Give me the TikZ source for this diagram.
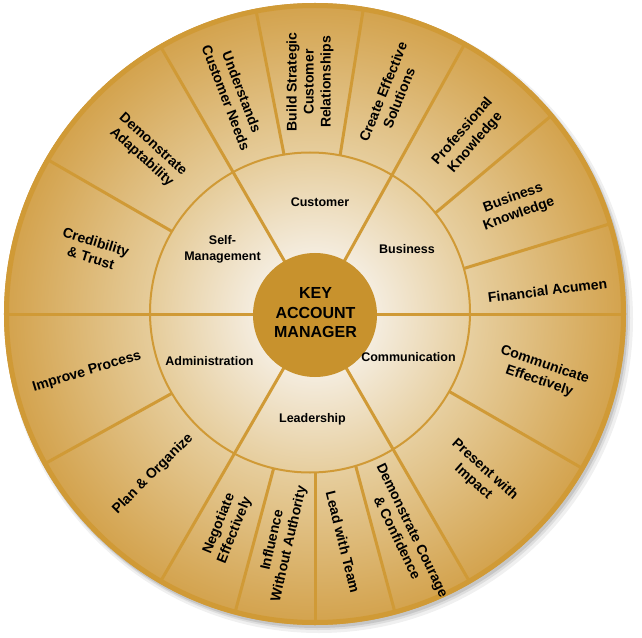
\documentclass[tikz,border=0pt]{standalone}
\usepackage{fontspec}
\setmainfont{Liberation Sans}
\definecolor{gold}{HTML}{D09A36}
\definecolor{goldc}{HTML}{C8922D}
\definecolor{cA}{HTML}{F6F0E6}
\definecolor{cB}{HTML}{E6CD9C}
\definecolor{cC}{HTML}{D3A24C}
\pgfdeclareradialshading{wheel}{\pgfpoint{0bp}{0bp}}{color(0bp)=(cA); color(4bp)=(cA); color(13bp)=(cB); color(25bp)=(cC); color(50bp)=(cC)}
\tikzset{
  divider/.style={draw=gold, line width=3},
  ringline/.style={draw=gold, line width=2},
  inlbl/.style={font=\bfseries\fontsize{12.5}{16}\selectfont, align=center, inner sep=0pt, text=black},
  outlbl/.style={font=\bfseries\fontsize{14}{17}\selectfont, align=center, inner sep=0pt, text=black},
  hublbl/.style={font=\bfseries\fontsize{16}{19.5}\selectfont, align=center, inner sep=0pt, text=black}
}
\begin{document}
\begin{tikzpicture}[x=1pt,y=1pt]
\useasboundingbox (-315,-323) rectangle (327,314);
% shadow
\fill[black, opacity=0.06] (4,-5) circle (314);
\fill[black, opacity=0.08] (3,-4) circle (312);
\fill[black, opacity=0.10] (2,-3) circle (311);
% outer disk
\shade[shading=wheel] (0,0) circle (311);
% outer dividers
\foreach \a in {17,40,81,101,150,209,255,270,285,330}
  \draw[divider] (0,0) -- (\a:308);
% inner disk
\begin{scope}
  \clip (-5,1.5) circle (160);
  \shade[shading=wheel] (0,0) circle (311);
\end{scope}
\draw[ringline] (-5,1.5) circle (160);
% main dividers
\foreach \a in {0,61,120,180,240,300}
  \draw[divider] (0,0) -- (\a:308);
% border
\draw[draw=gold, line width=5] (0,0) circle (308.5);
% hub
\fill[goldc] (0,-1) circle (62);
\node[hublbl] (hub) at (0.5,1) {KEY\\ACCOUNT\\MANAGER};
% inner labels
\node[inlbl] (cust) at (5,112) {Customer};
\node[inlbl] (bus) at (92,65) {Business};
\node[inlbl] (comm) at (93.5,-43) {Communication};
\node[inlbl] (lead) at (-2.5,-105) {Leadership};
\node[inlbl] (adm) at (-105.5,-47) {Administration};
\node[inlbl] (self) at (-92.5,64.5) {Self-\\Management};
% outer labels
\node[outlbl, rotate=7] (o1) at (232.5,23.5) {Financial Acumen};
\node[outlbl, rotate=20] (o2) at (201,108) {Business\\Knowledge};
\node[outlbl, rotate=49] (o3) at (154,177) {Professional\\Knowledge};
\node[outlbl, rotate=68] (o4) at (76,219) {Create Effective\\Solutions};
\node[outlbl, rotate=90] (o5) at (-5,232) {Build Strategic\\Customer\\Relationships};
\node[outlbl, rotate=-69] (o6) at (-81,219) {Understands\\Customer Needs};
\node[outlbl, rotate=-42] (o7) at (-168,163) {Demonstrate\\Adaptability};
\node[outlbl, rotate=-17] (o8) at (-221.5,64) {Credibility\\\& Trust};
\node[outlbl, rotate=17] (o9) at (-228,-58) {Improve Process};
\node[outlbl, rotate=45] (o10) at (-162,-160) {Plan \& Organize};
\node[outlbl, rotate=68] (o11) at (-88,-213) {Negotiate\\Effectively};
\node[outlbl, rotate=77] (o12) at (-34,-228) {Influence\\Without Authority};
\node[outlbl, rotate=-76] (o13) at (28,-228) {Lead with Team};
\node[outlbl, rotate=-64] (o14) at (90,-220) {Demonstrate Courage\\\& Confidence};
\node[outlbl, rotate=-42] (o15) at (164,-162) {Present with\\Impact};
\node[outlbl, rotate=-19] (o16) at (227,-59) {Communicate\\Effectively};
\end{tikzpicture}
\end{document}
